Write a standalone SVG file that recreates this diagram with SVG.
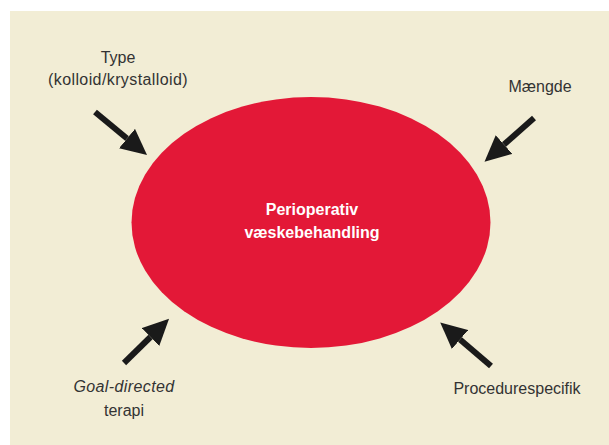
<svg xmlns="http://www.w3.org/2000/svg" width="609" height="445" viewBox="0 0 609 445">
<style>
.lbl{font-family:"Liberation Sans",Arial,sans-serif;font-size:16px;fill:#333;text-anchor:middle}
.ctr{font-family:"Liberation Sans",Arial,sans-serif;font-size:16px;font-weight:bold;fill:#fff;text-anchor:middle}
.arr{stroke:#1a1a1a;stroke-width:6;fill:none;marker-end:url(#head)}
</style>
<defs>
<marker id="head" markerUnits="userSpaceOnUse" markerWidth="26" markerHeight="25" viewBox="0 0 26 25" refX="0" refY="12.5" orient="auto">
<path d="M0,0 L26,12.5 L0,25 Z" fill="#1a1a1a"/>
</marker>
</defs>
<rect x="0" y="0" width="609" height="445" fill="#fff"/>
<rect x="10" y="11" width="599" height="434" fill="#f2edd5"/>
<g id="center">
<ellipse cx="311" cy="222.5" rx="179.5" ry="125.5" fill="#e31837"/>
<text class="ctr" x="312" y="215">Perioperativ</text>
<text class="ctr" x="312" y="238">væskebehandling</text>
</g>
<g id="type">
<text class="lbl" x="118" y="63">Type</text>
<text class="lbl" x="118" y="85" letter-spacing="0.4">(kolloid/krystalloid)</text>
</g>
<g id="maengde">
<text class="lbl" x="540" y="92">Mængde</text>
</g>
<g id="goal">
<text class="lbl" x="124" y="392" font-style="italic" letter-spacing="0.4">Goal-directed</text>
<text class="lbl" x="124" y="416">terapi</text>
</g>
<g id="procedure">
<text class="lbl" x="517" y="394">Procedurespecifik</text>
</g>
<g id="connectors">
<line class="arr" x1="95" y1="112" x2="127" y2="138.5"/>
<line class="arr" x1="534" y1="118" x2="504" y2="144.5"/>
<line class="arr" x1="124" y1="363" x2="150.5" y2="337"/>
<line class="arr" x1="491" y1="366" x2="460" y2="339.5"/>
</g>
</svg>
